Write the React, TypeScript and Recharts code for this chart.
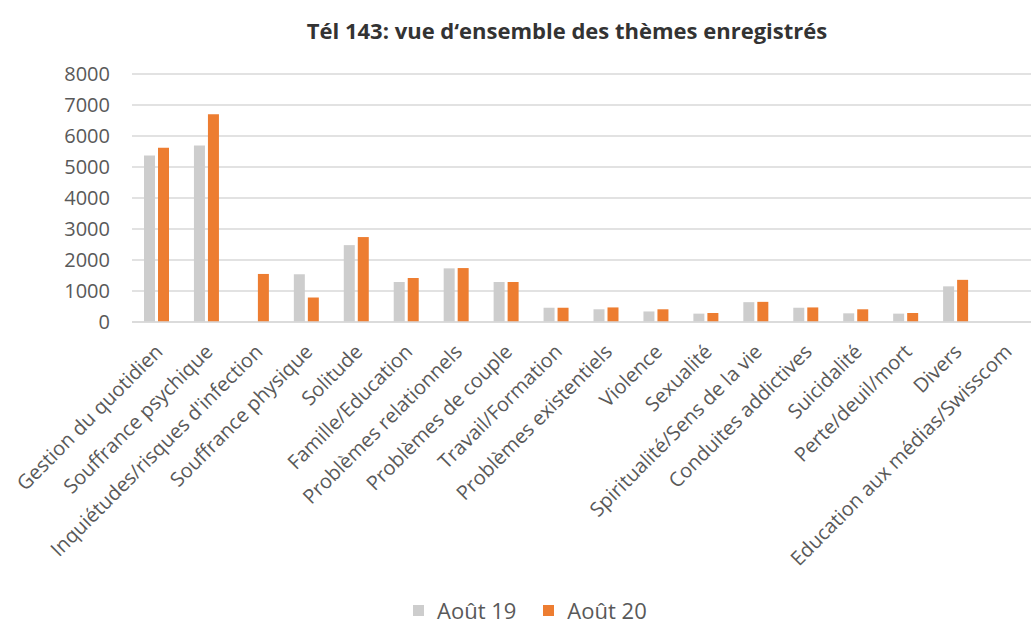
import { BarChart, Bar, XAxis, YAxis, CartesianGrid, Legend } from "recharts";

const themes = [
  "Gestion du quotidien",
  "Souffrance psychique",
  "Inquiétudes/risques d'infection",
  "Souffrance physique",
  "Solitude",
  "Famille/Education",
  "Problèmes relationnels",
  "Problèmes de couple",
  "Travail/Formation",
  "Problèmes existentiels",
  "Violence",
  "Sexualité",
  "Spiritualité/Sens de la vie",
  "Conduites addictives",
  "Suicidalité",
  "Perte/deuil/mort",
  "Divers",
  "Education aux médias/Swisscom",
];

const aout19 = [5370, 5690, 0, 1540, 2480, 1290, 1730, 1290, 460, 410, 340, 270, 640, 460, 280, 270, 1150, 0];
const aout20 = [5620, 6700, 1550, 790, 2740, 1420, 1740, 1290, 460, 470, 410, 290, 650, 470, 410, 290, 1360, 0];

const yTicks = [0, 1000, 2000, 3000, 4000, 5000, 6000, 7000, 8000];

const data = themes.map((name, i) => ({ name, a19: aout19[i], a20: aout20[i] }));

const FONT = "'Open Sans', sans-serif";

const AngledTick = (props: any) => {
  const { x, y, payload } = props;
  return (
    <g transform={`translate(${x + 2},${y + 24})`}>
      <text
        textAnchor="end"
        transform="rotate(-45)"
        dy="0.35em"
        fill="#595959"
        fontSize={20}
        fontFamily={FONT}
      >
        {payload.value}
      </text>
    </g>
  );
};

const renderLegend = (props: any) => {
  const { payload } = props;
  return (
    <div style={{ display: "flex", alignItems: "center", marginLeft: 413, fontFamily: FONT, fontSize: 22, color: "#595959" }}>
      {payload.map((p: any, i: number) => (
        <div key={i} style={{ display: "flex", alignItems: "center", marginRight: 27 }}>
          <span style={{ display: "inline-block", width: 11, height: 11, background: p.color, marginRight: 13 }} />
          <span>{p.value}</span>
        </div>
      ))}
    </div>
  );
};

export default function App() {
  return (
    <div style={{ position: "absolute", left: 0, top: 0, width: 1033, height: 627, background: "#fff" }}>
      <BarChart
        width={1033}
        height={627}
        data={data}
        margin={{ top: 74, right: 2, left: 0, bottom: 2 }}
        barSize={11}
        barGap={3}
      >
        <text x={567} y={39} textAnchor="middle" fontFamily={FONT} fontWeight={700} fontSize={22} fill="#333">
          Tél 143: vue d‘ensemble des thèmes enregistrés
        </text>
        <CartesianGrid vertical={false} stroke="#d9d9d9" strokeWidth={1.5} />
        <XAxis
          dataKey="name"
          interval={0}
          tickLine={false}
          tickSize={0}
          axisLine={{ stroke: "#d9d9d9", strokeWidth: 1.5 }}
          height={273}
          tick={<AngledTick />}
        />
        <YAxis
          domain={[0, 8000]}
          ticks={yTicks}
          axisLine={false}
          tickLine={false}
          tickSize={0}
          tickMargin={22}
          width={132}
          tick={{ fill: "#595959", fontSize: 20, fontFamily: FONT }}
        />
        <Legend verticalAlign="bottom" content={renderLegend} />
        <Bar dataKey="a19" name="Août 19" fill="#cdcdcd" isAnimationActive={false} />
        <Bar dataKey="a20" name="Août 20" fill="#ed7d31" isAnimationActive={false} />
      </BarChart>
    </div>
  );
}
